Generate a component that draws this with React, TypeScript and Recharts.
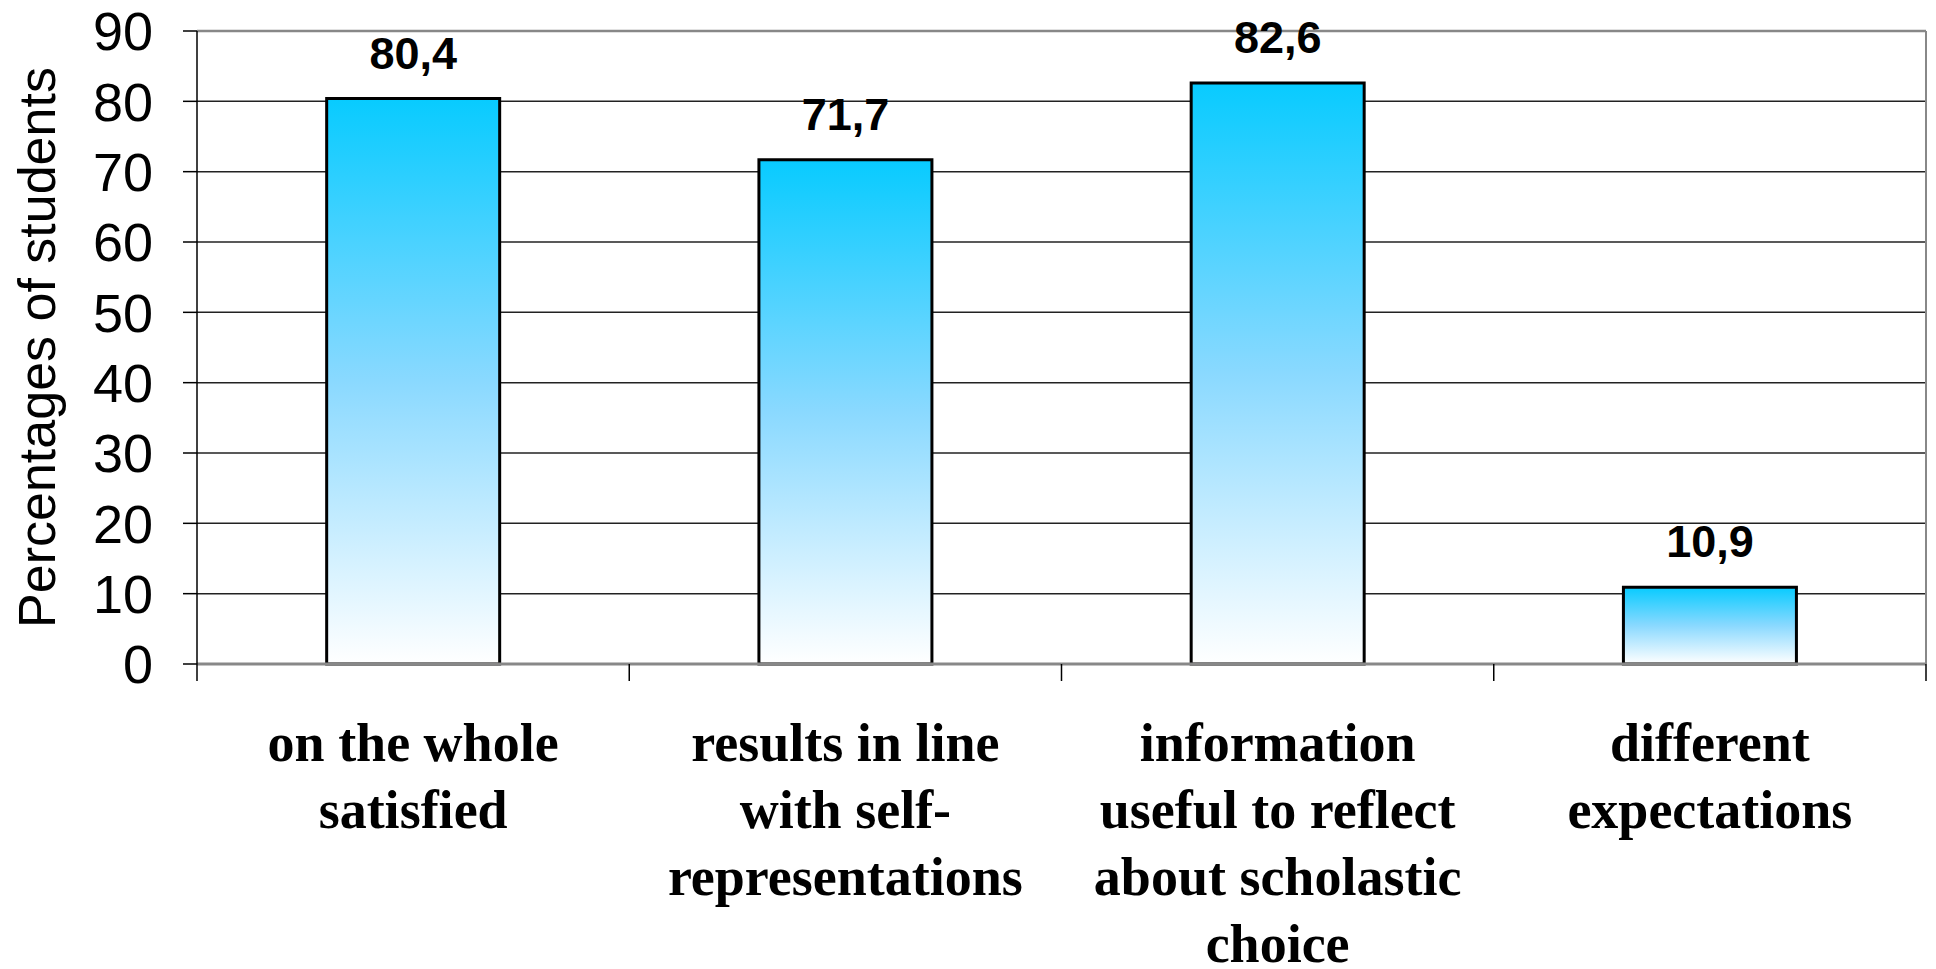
import React from 'react';
import { BarChart, Bar, XAxis, YAxis, CartesianGrid, LabelList, ReferenceLine } from 'recharts';

const categories = [
  'on the whole\nsatisfied',
  'results in line\nwith self-\nrepresentations',
  'information\nuseful to reflect\nabout scholastic\nchoice',
  'different\nexpectations',
];
const percentages = [80.4, 71.7, 82.6, 10.9];
const yTicks = [0, 10, 20, 30, 40, 50, 60, 70, 80, 90];

const data = categories.map((category, i) => ({ category, value: percentages[i] }));

const W = 1936;
const H = 969;
const Y_AXIS_W = 197;
const RIGHT_W = 10;
const PLOT_W = W - Y_AXIS_W - RIGHT_W;

const sans = '"Liberation Sans", Arial, sans-serif';
const serif = '"Liberation Serif", "Times New Roman", serif';

function CategoryTick(props: any) {
  const { x, y, payload, index } = props;
  const band = PLOT_W / categories.length;
  const lines = String(payload.value).split('\n');
  return (
    <g>
      <line x1={x - band / 2} x2={x - band / 2} y1={y} y2={y + 17} stroke="#000" strokeWidth={1.5} />
      {index === categories.length - 1 && (
        <line x1={x + band / 2} x2={x + band / 2} y1={y} y2={y + 17} stroke="#000" strokeWidth={1.5} />
      )}
      <text x={x} y={y + 97} textAnchor="middle" fontFamily={serif} fontWeight="bold" fontSize={54} fill="#000">
        {lines.map((l, i) => (
          <tspan key={i} x={x} dy={i === 0 ? 0 : 67}>{l}</tspan>
        ))}
      </text>
    </g>
  );
}

function YLabel(props: any) {
  const { viewBox } = props;
  const cx = viewBox.x + 37;
  const cy = viewBox.y + viewBox.height / 2;
  return (
    <text x={cx} y={cy} transform={`rotate(-90, ${cx}, ${cy})`} textAnchor="middle" dominantBaseline="central"
      fontFamily={sans} fontSize={52} fill="#000">
      Percentages of students
    </text>
  );
}

export default function App() {
  return (
    <div style={{ position: 'absolute', left: 0, top: 0, width: W, height: H, background: '#fff' }}>
      <BarChart width={W} height={H} data={data} margin={{ top: 31, right: 0, bottom: 0, left: 0 }} barCategoryGap="30%">
        <defs>
          <linearGradient id="barGrad" x1="0" y1="0" x2="0" y2="1">
            <stop offset="0%" stopColor="#08cbff" />
            <stop offset="50%" stopColor="#8ad9ff" />
            <stop offset="100%" stopColor="#ffffff" />
          </linearGradient>
        </defs>
        <CartesianGrid vertical={false} stroke="#222" strokeWidth={1.5} />
        <XAxis
          dataKey="category"
          interval={0}
          height={H - 31 - 633}
          tickSize={0}
          tickMargin={0}
          tickLine={false}
          axisLine={{ stroke: '#888', strokeWidth: 3 }}
          tick={<CategoryTick />}
        />
        <YAxis
          width={Y_AXIS_W}
          domain={[0, 90]}
          ticks={yTicks}
          interval={0}
          tickSize={14}
          tickMargin={30}
          axisLine={{ stroke: '#000', strokeWidth: 1.5 }}
          tickLine={{ stroke: '#000', strokeWidth: 1.5 }}
          tick={{ fontFamily: sans, fontSize: 54, fill: '#000' }}
          label={<YLabel />}
        />
        <YAxis
          yAxisId="border"
          orientation="right"
          width={RIGHT_W}
          domain={[0, 90]}
          tick={false}
          tickLine={false}
          axisLine={{ stroke: '#888', strokeWidth: 2 }}
        />
        <ReferenceLine y={90} stroke="#888" strokeWidth={2.5} />
        <Bar dataKey="value" fill="url(#barGrad)" stroke="#000" strokeWidth={3} isAnimationActive={false}>
          <LabelList
            dataKey="value"
            position="top"
            offset={30}
            formatter={(v: any) => String(v).replace('.', ',')}
            style={{ fontFamily: sans, fontWeight: 'bold', fontSize: 45, fill: '#000' }}
          />
        </Bar>
      </BarChart>
    </div>
  );
}
